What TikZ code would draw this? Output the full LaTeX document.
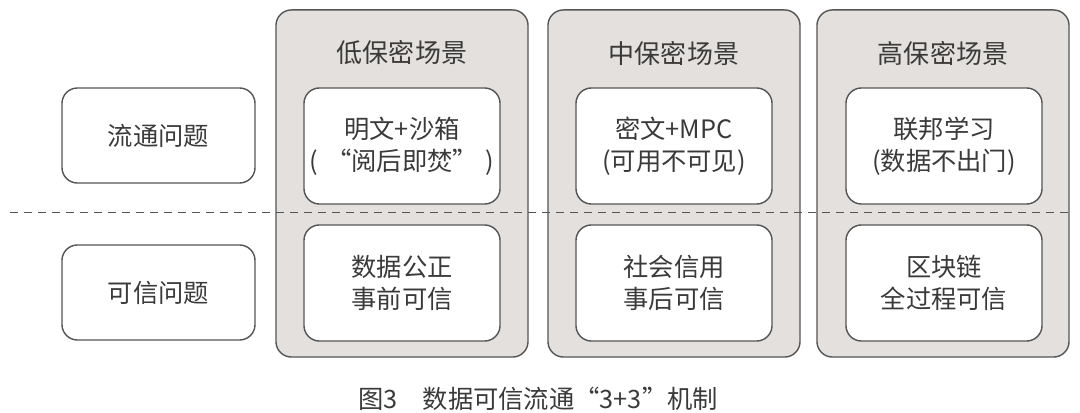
\documentclass[tikz,border=0pt]{standalone}
\usepackage{fontspec}
\setmainfont{Noto Sans CJK SC}
\usepackage{xcolor}
\usetikzlibrary{positioning}
\definecolor{trait}{HTML}{555555}
\definecolor{fondgris}{HTML}{E3E0DD}
\definecolor{texte}{HTML}{3A3A3A}
\tikzset{
  colonne/.style={rectangle, rounded corners=11pt, draw=trait, fill=fondgris,
    line width=1pt, minimum width=6.3cm, minimum height=8.675cm},
  boite/.style={rectangle, rounded corners=11pt, draw=trait, fill=white,
    line width=1pt, text=texte, font=\fontsize{18}{23}\selectfont,
    align=center, inner xsep=0pt, minimum width=4.9cm, minimum height=2.9cm},
  probleme/.style={boite, minimum width=4.825cm, minimum height=2.375cm},
  titre/.style={text=texte, font=\fontsize{18.5}{23}\selectfont},
  legende/.style={text=texte, font=\fontsize{18}{22}\selectfont},
  separation/.style={dash pattern=on 0.2cm off 0.15cm, color=trait, line width=0.9pt}
}
\begin{document}
\begin{tikzpicture}[x=0.025cm, y=-0.025cm]
    \useasboundingbox (0,0) rectangle (1080,413);
    % Scenarios
    \node[colonne] (bas) at (402, 183.5) {};
    \node[colonne] (moyen) at (674, 183.5) {};
    \node[colonne] (haut) at (943, 183.5) {};
    \node[titre] (tbas) at (402, 53) {低保密场景};
    \node[titre] (tmoyen) at (674, 53) {中保密场景};
    \node[titre] (thaut) at (943, 53) {高保密场景};

    % Ligne de separation
    \coordinate (sepg) at (10, 212.5);
    \coordinate (sepd) at (1070, 212.5);
    \draw[separation] (sepg) -- (sepd);

    % Problemes
    \node[probleme] (flux) at (158.5, 135.5) {流通问题};
    \node[probleme] (confiance) at (158.5, 292.5) {可信问题};

    % Solutions
    \node[boite] (bas1) at (402, 146) {明文+沙箱\\(\hspace{0.3em}“阅后即焚”\hspace{0.3em})};
    \node[boite] (moyen1) at (674, 146) {密文+MPC\\(可用不可见)};
    \node[boite] (haut1) at (944, 146) {联邦学习\\(数据不出门)};
    \node[boite] (bas2) at (402, 283) {数据公正\\事前可信};
    \node[boite] (moyen2) at (674, 283) {社会信用\\事后可信};
    \node[boite] (haut2) at (944, 283) {区块链\\全过程可信};

    % Legende
    \node[legende] (fig) at (538, 399) {图3\quad 数据可信流通“3+3”机制};
  \end{tikzpicture}
\end{document}
